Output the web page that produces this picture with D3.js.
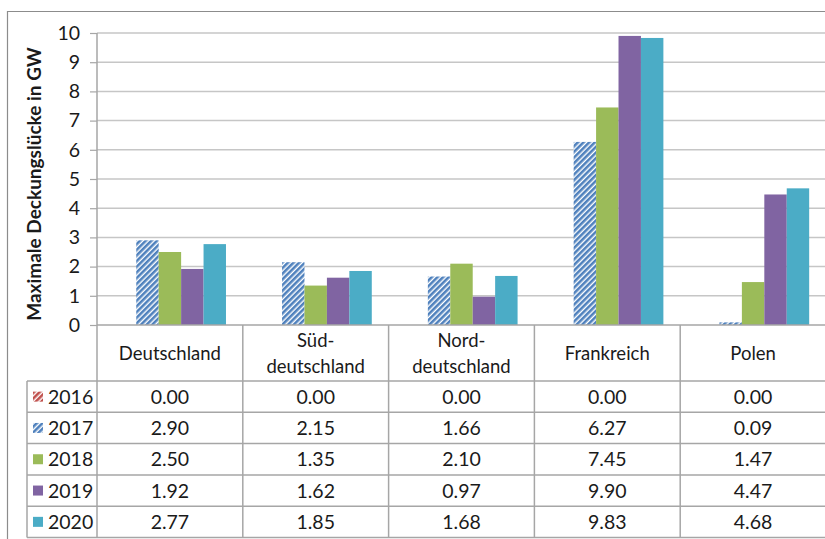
<!DOCTYPE html>
<html><head><meta charset="utf-8">
<script src="https://cdn.jsdelivr.net/npm/d3@7/dist/d3.min.js"></script>
<style>body{margin:0;background:#fff}svg{display:block}text{font-family:Lato,"Noto Sans",sans-serif;fill:#1a1a1a}</style>
</head><body><svg id="c" width="825" height="539"></svg>
<script>
const categories = ["Deutschland", "Süd-\ndeutschland", "Nord-\ndeutschland", "Frankreich", "Polen"];
const years = ["2016", "2017", "2018", "2019", "2020"];
const v2016 = [0.00, 0.00, 0.00, 0.00, 0.00];
const v2017 = [2.90, 2.15, 1.66, 6.27, 0.09];
const v2018 = [2.50, 1.35, 2.10, 7.45, 1.47];
const v2019 = [1.92, 1.62, 0.97, 9.90, 4.47];
const v2020 = [2.77, 1.85, 1.68, 9.83, 4.68];
const yTicks = [0,1,2,3,4,5,6,7,8,9,10];
const yTitle = "Maximale Deckungslücke in GW";

const series = [v2016, v2017, v2018, v2019, v2020];
const fills = ["url(#hRed)", "url(#hBlue)", "#9bbb59", "#8064a2", "#4bacc6"];

const svg = d3.select("#c");
const defs = svg.append("defs");
function hatch(id, col){
  const p = defs.append("pattern").attr("id", id).attr("patternUnits","userSpaceOnUse")
    .attr("width",4).attr("height",4).attr("patternTransform","rotate(45)");
  p.append("rect").attr("width",4).attr("height",4).attr("fill","#fff");
  p.append("rect").attr("width",2.6).attr("height",4).attr("fill",col);
}
hatch("hRed","#c0504d");
hatch("hBlue","#4f81bd");

const L = 97, R = 826, T = 33, B = 325;
const y = d3.scaleLinear().domain([0,10]).range([B,T]);
const x0 = d3.scaleBand().domain(categories).range([L,R]).paddingInner(0).paddingOuter(0);
const x1 = d3.scaleBand().domain(years).range([0,x0.bandwidth()]).paddingInner(0).paddingOuter(0.75);

// outer chart border
svg.append("path").attr("d",`M7.5,539 V11.5 H826`).attr("fill","none").attr("stroke","#8c8c8c").attr("stroke-width",1.2);

// gridlines
svg.append("g").selectAll("line").data(yTicks.filter(t=>t>0)).join("line")
  .attr("x1",L).attr("x2",R).attr("y1",d=>y(d)).attr("y2",d=>y(d))
  .attr("stroke","#c6c6c6").attr("stroke-width",1.5);

// y axis
const ya = svg.append("g").attr("transform",`translate(${L},0)`)
  .call(d3.axisLeft(y).tickValues(yTicks).tickSize(7).tickPadding(10).tickFormat(d3.format("d")));
ya.select(".domain").remove();
ya.selectAll(".tick line").attr("stroke","#a6a6a6").attr("stroke-width",1.2);
ya.selectAll(".tick text").attr("font-size",19.5).attr("font-family","Lato").attr("fill","#1a1a1a");

svg.append("text").attr("transform",`translate(41,${(T+B)/2+5}) rotate(-90)`)
  .attr("text-anchor","middle").attr("font-weight","bold").attr("font-size",19).text(yTitle);

// bars
const g = svg.append("g");
categories.forEach((c,ci)=>{
  series.forEach((s,si)=>{
    g.append("rect").attr("x",x0(c)+x1(years[si])).attr("width",x1.bandwidth())
      .attr("y",y(s[ci])).attr("height",B-y(s[ci])).attr("fill",fills[si]);
  });
});

// table
const rowTop = 381, rowH = 31.3, legL = 27;
const gridCol = "#a6a6a6";
const tg = svg.append("g");
tg.append("line").attr("x1",L).attr("x2",R).attr("y1",B).attr("y2",B).attr("stroke","#a6a6a6").attr("stroke-width",1.5);
const vx = categories.map(c=>x0(c)).concat([R]);
vx.forEach((vxx,i)=>{
  tg.append("line").attr("x1",vxx).attr("x2",vxx).attr("y1",i===0?T:B).attr("y2",rowTop+rowH*5)
    .attr("stroke",gridCol).attr("stroke-width",1.5);
});
tg.append("line").attr("x1",legL).attr("x2",legL).attr("y1",rowTop).attr("y2",rowTop+rowH*5).attr("stroke",gridCol).attr("stroke-width",1.5);
for(let r=0;r<=5;r++){
  tg.append("line").attr("x1",legL).attr("x2",R).attr("y1",rowTop+r*rowH).attr("y2",rowTop+r*rowH).attr("stroke",gridCol).attr("stroke-width",1.5);
}
categories.forEach(c=>{
  const lines = c.split("\n");
  const cx = x0(c)+x0.bandwidth()/2;
  const mid = (B+rowTop)/2;
  lines.forEach((ln,li)=>{
    tg.append("text").attr("x",cx).attr("y",mid + (li-(lines.length-1)/2)*26).attr("dy","0.36em")
      .attr("text-anchor","middle").attr("font-size",18.5).text(ln);
  });
});
series.forEach((s,si)=>{
  const cy = rowTop + si*rowH + rowH/2;
  tg.append("rect").attr("x",33).attr("y",cy-5).attr("width",10).attr("height",10).attr("fill",fills[si]);
  tg.append("text").attr("x",48).attr("y",cy).attr("dy","0.36em").attr("font-size",19.5).text(years[si]);
  s.forEach((v,ci)=>{
    tg.append("text").attr("x",x0(categories[ci])+x0.bandwidth()/2).attr("y",cy).attr("dy","0.36em")
      .attr("text-anchor","middle").attr("font-size",19.5).text(d3.format(".2f")(v));
  });
});
</script></body></html>
